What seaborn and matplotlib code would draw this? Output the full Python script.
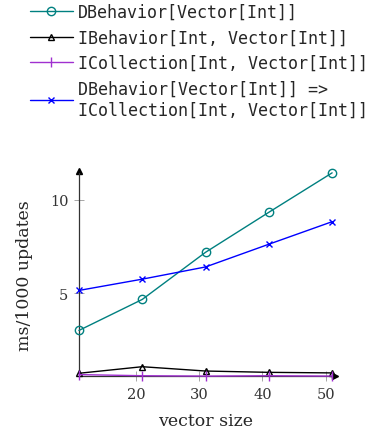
import matplotlib
matplotlib.use("Agg")
import matplotlib.pyplot as plt
import seaborn as sns
import pandas as pd

sizes = [11, 21, 31, 41, 51]
dbehavior = [3.03, 4.68, 7.19, 9.32, 11.42]
ibehavior = [0.75, 1.10, 0.87, 0.80, 0.77]
icollection = [0.68, 0.62, 0.60, 0.62, 0.60]
combined = [5.16, 5.76, 6.41, 7.62, 8.82]

labels = ["DBehavior[Vector[Int]]",
          "IBehavior[Int, Vector[Int]]",
          "ICollection[Int, Vector[Int]]",
          "DBehavior[Vector[Int]] =>\nICollection[Int, Vector[Int]]"]
colors = ["#008080", "black", "#a030d0", "blue"]
markers = ["o", "^", "|", "x"]
series = [dbehavior, ibehavior, icollection, combined]

df = pd.concat([pd.DataFrame({"size": sizes, "ms": v, "series": lab})
                for v, lab in zip(series, labels)])

sns.set_style("white")
plt.rcParams["font.family"] = ["DejaVu Serif"]

fig = plt.figure(figsize=(3.67, 4.39), dpi=100)
ax = fig.add_axes([0.215, 0.141, 0.69, 0.463])

handles = []
for lab, col, mk in zip(labels, colors, markers):
    d = df[df["series"] == lab]
    mfc = "none" if mk in ("o", "^") else col
    ms = {"o": 6, "^": 5, "|": 7, "x": 4.5}[mk]
    sns.lineplot(data=d, x="size", y="ms", ax=ax, color=col, marker=mk,
                 markersize=ms, markerfacecolor=mfc, markeredgecolor=col,
                 markeredgewidth=1.0, linewidth=1.0, clip_on=False, zorder=3)
    handles.append(ax.lines[-1])

ax.set_xlim(11, 51)
ax.set_ylim(0.6, 11.42)
ax.set_xticks([20, 30, 40, 50])
ax.set_yticks([5, 10])
ax.tick_params(axis="both", direction="inout", length=7, width=0.6,
               color="#999999", labelsize=10.5, labelcolor="#333333", pad=4,
               bottom=True, left=True)
for s in ["top", "right"]:
    ax.spines[s].set_visible(False)
for s in ["left", "bottom"]:
    ax.spines[s].set_color("#333333")
    ax.spines[s].set_linewidth(0.9)
ax.plot(0, 1.01, "^", color="black", markersize=5, transform=ax.transAxes, clip_on=False)
ax.plot(1.01, 0, ">", color="black", markersize=5, transform=ax.transAxes, clip_on=False)

ax.set_xlabel("vector size", fontsize=12.5, labelpad=8)
ax.set_ylabel("ms/1000 updates", fontsize=12.5, labelpad=12)
if ax.get_legend():
    ax.get_legend().remove()

fig.legend(handles, labels, loc="upper left", bbox_to_anchor=(0.04, 1.025),
           frameon=False, handlelength=2.6, handletextpad=0.3, labelspacing=0.45,
           prop={"family": "DejaVu Sans Mono", "size": 12})

fig.savefig("out.png", dpi=100)
